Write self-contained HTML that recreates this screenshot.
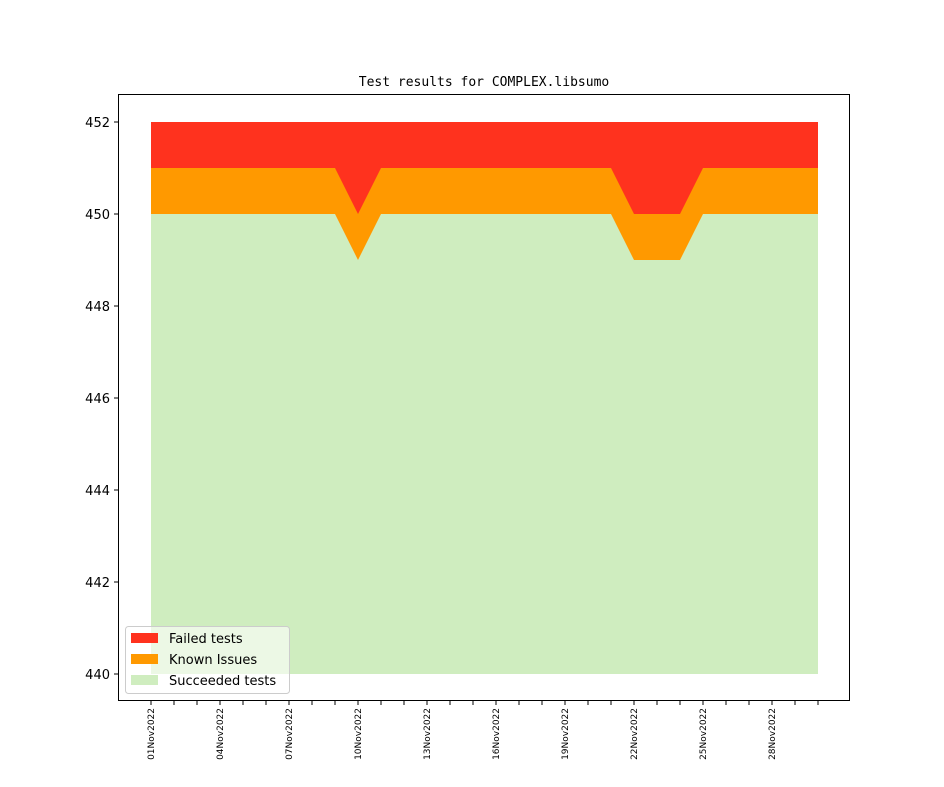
<!DOCTYPE html>
<html><head><style>body{margin:0;background:#fff}svg{display:block}</style></head><body>
<svg width="944" height="787" xmlns="http://www.w3.org/2000/svg" font-family="DejaVu Sans, Liberation Sans, sans-serif">
<rect width="944" height="787" fill="#fff"/>
<text x="484" y="86" font-size="13" text-anchor="middle" font-family="DejaVu Sans Mono, Liberation Mono, monospace">Test results for COMPLEX.libsumo</text>
<rect x="151" y="122" width="667" height="552" fill="#ff321e"/>
<polygon fill="#ff9900" points="151,168 335,168 358,214 381,168 611,168 634,214 680,214 703,168 818,168 818,674 151,674"/>
<polygon fill="#cfedbf" points="151,214 335,214 358,260 381,214 611,214 634,260 680,260 703,214 818,214 818,674 151,674"/>
<rect x="118.5" y="94.5" width="731" height="606" fill="none" stroke="#000" stroke-width="1"/>
<g stroke="#000" stroke-width="1">
<line x1="114" x2="118" y1="122" y2="122"/><line x1="114" x2="118" y1="214" y2="214"/><line x1="114" x2="118" y1="306" y2="306"/><line x1="114" x2="118" y1="398" y2="398"/><line x1="114" x2="118" y1="490" y2="490"/><line x1="114" x2="118" y1="582" y2="582"/><line x1="114" x2="118" y1="674" y2="674"/>
</g>
<g font-size="13" text-anchor="end" fill="#000">
<text x="110" y="127">452</text><text x="110" y="219">450</text><text x="110" y="311">448</text><text x="110" y="403">446</text><text x="110" y="495">444</text><text x="110" y="587">442</text><text x="110" y="679">440</text>
</g>
<g stroke="#000" stroke-width="1" id="ticks">
<line x1="151" x2="151" y1="701" y2="705"/><line x1="174" x2="174" y1="701" y2="705"/><line x1="197" x2="197" y1="701" y2="705"/><line x1="220" x2="220" y1="701" y2="705"/><line x1="243" x2="243" y1="701" y2="705"/><line x1="266" x2="266" y1="701" y2="705"/><line x1="289" x2="289" y1="701" y2="705"/><line x1="312" x2="312" y1="701" y2="705"/><line x1="335" x2="335" y1="701" y2="705"/><line x1="358" x2="358" y1="701" y2="705"/><line x1="381" x2="381" y1="701" y2="705"/><line x1="404" x2="404" y1="701" y2="705"/><line x1="427" x2="427" y1="701" y2="705"/><line x1="450" x2="450" y1="701" y2="705"/><line x1="473" x2="473" y1="701" y2="705"/><line x1="496" x2="496" y1="701" y2="705"/><line x1="519" x2="519" y1="701" y2="705"/><line x1="542" x2="542" y1="701" y2="705"/><line x1="565" x2="565" y1="701" y2="705"/><line x1="588" x2="588" y1="701" y2="705"/><line x1="611" x2="611" y1="701" y2="705"/><line x1="634" x2="634" y1="701" y2="705"/><line x1="657" x2="657" y1="701" y2="705"/><line x1="680" x2="680" y1="701" y2="705"/><line x1="703" x2="703" y1="701" y2="705"/><line x1="726" x2="726" y1="701" y2="705"/><line x1="749" x2="749" y1="701" y2="705"/><line x1="772" x2="772" y1="701" y2="705"/><line x1="795" x2="795" y1="701" y2="705"/><line x1="818" x2="818" y1="701" y2="705"/>
</g>
<g font-size="9" text-anchor="end" fill="#000">
<text transform="translate(154,708) rotate(-90)">01Nov2022</text>
<text transform="translate(223,708) rotate(-90)">04Nov2022</text>
<text transform="translate(292,708) rotate(-90)">07Nov2022</text>
<text transform="translate(361,708) rotate(-90)">10Nov2022</text>
<text transform="translate(430,708) rotate(-90)">13Nov2022</text>
<text transform="translate(499,708) rotate(-90)">16Nov2022</text>
<text transform="translate(568,708) rotate(-90)">19Nov2022</text>
<text transform="translate(637,708) rotate(-90)">22Nov2022</text>
<text transform="translate(706,708) rotate(-90)">25Nov2022</text>
<text transform="translate(775,708) rotate(-90)">28Nov2022</text>
</g>
<rect x="125.5" y="626.5" width="164" height="67" rx="3" fill="#fff" fill-opacity="0.6" stroke="#ccc" stroke-width="1"/>
<rect x="131" y="633" width="27" height="10" fill="#ff321e"/>
<rect x="131" y="654" width="27" height="10" fill="#ff9900"/>
<rect x="131" y="675" width="27" height="10" fill="#cfedbf"/>
<g font-size="13" fill="#000">
<text x="169" y="643">Failed tests</text>
<text x="169" y="664">Known Issues</text>
<text x="169" y="685">Succeeded tests</text>
</g>
</svg>
</body></html>
